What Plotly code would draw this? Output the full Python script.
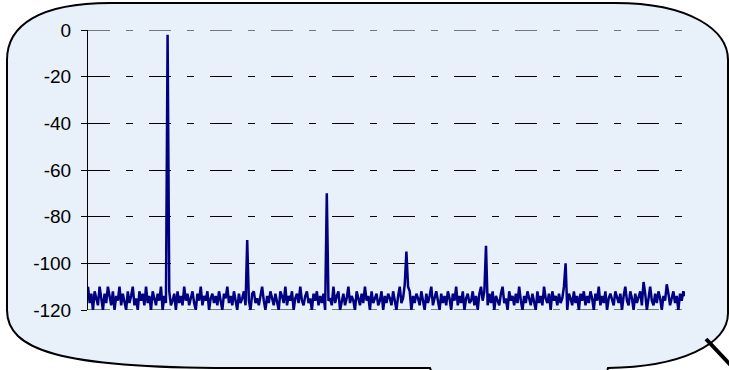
import plotly.graph_objects as go

# ---------------- data ----------------
# frequency axis in kHz (fundamental at 1 kHz), span 0 .. 7.5 kHz
freq_step_khz = 7.5 / 360
noise_floor_db = [
    -110, -117, -113, -120, -112, -115, -118, -110, -116, -120, -113, -117, -110, -115, -118, -112, -120, -114, -116, -110,
    -118, -113, -116, -120, -112, -117, -114, -110, -118, -115, -120, -112, -116, -113, -118, -110, -117, -114, -120, -112,
    -115, -118, -113, -116, -110, -120, -114, -117, -115, -112, -118, -116, -113, -120, -112, -117, -114, -118, -110, -116,
    -113, -118, -115, -112, -117, -120, -113, -116, -110, -118, -114, -116, -112, -120, -115, -113, -117, -114, -118, -112,
    -116, -120, -113, -115, -110, -117, -114, -118, -112, -116, -120, -113, -117, -115, -112, -118, -114, -116, -120, -113,
    -112, -117, -115, -118, -113, -110, -116, -120, -114, -117, -112, -115, -118, -113, -116, -120, -112, -114, -117, -110,
    -118, -114, -116, -112, -120, -115, -113, -117, -110, -116, -118, -114, -112, -117, -115, -120, -113, -116, -112, -118,
    -114, -117, -113, -120, -112, -116, -115, -118, -110, -117, -114, -112, -120, -116, -113, -118, -115, -110, -117, -114,
    -116, -120, -112, -115, -118, -113, -117, -110, -116, -114, -120, -112, -117, -115, -113, -118, -116, -112, -120, -114,
    -117, -113, -115, -118, -112, -116, -120, -114, -110, -117, -115, -109, -113, -110, -112, -120, -114, -117, -113, -115,
    -118, -112, -116, -120, -113, -117, -114, -110, -118, -115, -112, -116, -120, -113, -117, -114, -118, -112, -115, -120,
    -113, -116, -110, -118, -114, -117, -112, -120, -115, -113, -117, -116, -112, -118, -114, -120, -113, -110, -116, -112,
    -115, -118, -113, -117, -112, -120, -114, -116, -118, -113, -110, -117, -115, -120, -112, -116, -114, -118, -113, -117,
    -110, -116, -120, -114, -117, -112, -115, -118, -113, -116, -120, -112, -117, -114, -118, -110, -115, -117, -113, -120,
    -112, -116, -114, -118, -113, -117, -115, -110, -116, -120, -113, -115, -118, -112, -117, -114, -120, -113, -116, -112,
    -118, -114, -117, -112, -115, -120, -113, -116, -110, -118, -114, -117, -112, -120, -115, -113, -116, -118, -112, -115,
    -117, -113, -120, -114, -110, -116, -118, -112, -115, -120, -113, -117, -114, -112, -118, -108, -113, -120, -115, -110,
    -116, -118, -113, -117, -112, -115, -120, -114, -116, -109, -113, -118, -115, -112, -117, -114, -120, -113, -116, -112,
    -114,
]
harmonic_freq_khz = [1, 2, 3, 4, 5, 6]
harmonic_level_db = [-2, -90, -70, -95, -92.5, -100]
y_ticks = [0, -20, -40, -60, -80, -100, -120]
y_tick_labels = ["0", "-20", "-40", "-60", "-80", "-100", "-120"]
y_range = [-120, 0]

# build spectrum
freq = [i * freq_step_khz for i in range(len(noise_floor_db))]
level = list(noise_floor_db)
for f, lv in zip(harmonic_freq_khz, harmonic_level_db):
    idx = round(f / freq_step_khz)
    level[idx] = max(level[idx], lv)

# ---------------- layout helpers ----------------
W, H = 729, 370
L, R, T, B = 88, 685, 30, 310
GRID_DASH = "22px,16px,7px,16px"


def px(x):
    return (x - L) / (R - L)


def py(y):
    return (B - y) / (B - T)


def path(cmds):
    out = []
    for c in cmds:
        if c[0] == "Z":
            out.append("Z")
        else:
            pts = " ".join(f"{px(a):.5f},{py(b):.5f}" for a, b in c[1:])
            out.append(f"{c[0]} {pts}")
    return " ".join(out)


bubble = path([
    ("M", (110, 3)),
    ("L", (615, 3)),
    ("C", (690, 3), (728, 30), (728, 60)),
    ("L", (728, 313)),
    ("C", (728, 345), (680, 367), (608, 368)),
    ("L", (606, 376)),
    ("L", (433, 376)),
    ("L", (430, 368)),
    ("L", (230, 368)),
    ("C", (60, 368), (7, 350), (7, 310)),
    ("L", (7, 60)),
    ("C", (7, 25), (40, 3), (110, 3)),
    ("Z",),
])

fig = go.Figure()
fig.add_trace(go.Scatter(
    x=freq, y=level, mode="lines",
    line=dict(color="#000080", width=2.5),
    hoverinfo="skip", showlegend=False,
))

fig.add_shape(type="path", xref="paper", yref="paper", path=bubble,
              fillcolor="#E8F0FA", line=dict(color="black", width=2), layer="below")
fig.add_shape(type="line", xref="paper", yref="paper",
              x0=px(706), y0=py(339), x1=px(740), y1=py(375),
              line=dict(color="black", width=4), layer="below")
# gridlines at the two range ends (plotly omits them at the plot edges)
for yv in (y_ticks[0], y_ticks[-1]):
    fig.add_shape(type="line", xref="paper", yref="y", x0=0, x1=1, y0=yv, y1=yv,
                  line=dict(color="black", width=1, dash=GRID_DASH), layer="below")

fig.update_layout(
    width=W, height=H, autosize=False,
    margin=dict(l=L, r=W - R, t=T, b=H - B, pad=0),
    paper_bgcolor="white", plot_bgcolor="rgba(0,0,0,0)",
    font=dict(family="Liberation Sans, Arial, sans-serif", size=19, color="black"),
    xaxis=dict(range=[0, 7.5], visible=False, showgrid=False, zeroline=False),
    yaxis=dict(
        range=y_range, tickvals=y_ticks, ticktext=y_tick_labels,
        showline=True, linecolor="black", linewidth=1,
        ticks="outside", ticklen=6, tickwidth=1, tickcolor="black",
        showgrid=True, gridcolor="black", gridwidth=1,
        griddash=GRID_DASH, zeroline=False,
        ticklabelstandoff=6,
    ),
)

fig.write_html(
    "out.html",
    config={"displayModeBar": False},
    post_script="document.body.style.margin='0';document.body.style.padding='0';",
)
